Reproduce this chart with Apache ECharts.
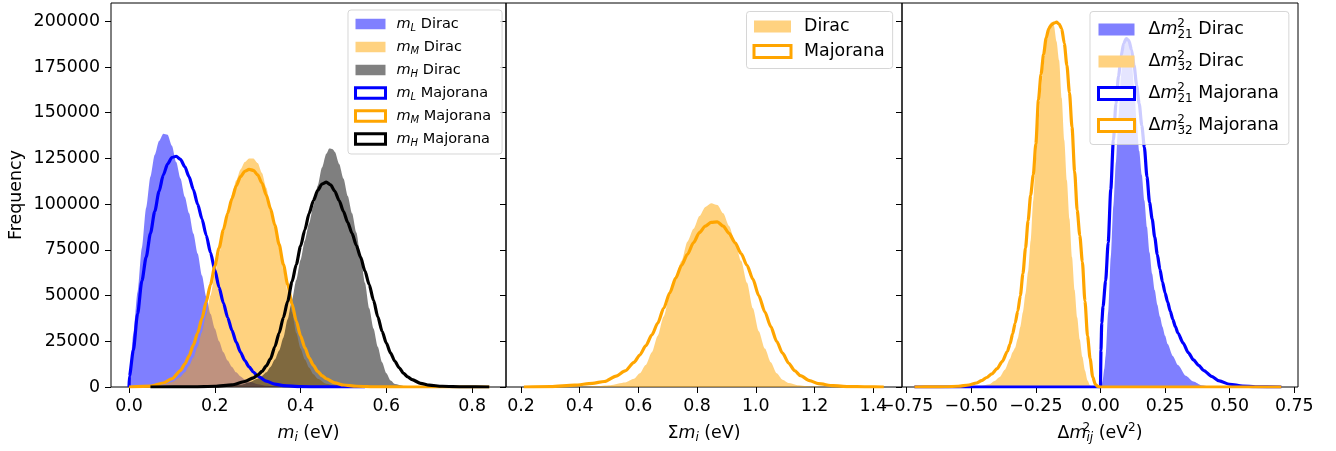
<!DOCTYPE html>
<html><head><meta charset="utf-8">
<script src="https://cdn.jsdelivr.net/npm/echarts@6/dist/echarts.min.js"></script>
<style>html,body{margin:0;padding:0;background:#fff}#c{width:1336px;height:451px}</style>
</head><body><div id="c"></div><script>
// ---------- Panel 1: individual masses m_i (eV) ----------
const mL_dirac = [[0,0],[0.001,5000],[0.01,29000],[0.02,52000],[0.03,76000],[0.04,98000],[0.05,115000],[0.06,127000],[0.07,134500],[0.08,138500],[0.09,138000],[0.10,132000],[0.11,123000],[0.12,114000],[0.13,104000],[0.14,95000],[0.15,84000],[0.16,73000],[0.17,61000],[0.18,49500],[0.19,40000],[0.20,32000],[0.21,25000],[0.22,19000],[0.23,14500],[0.24,11000],[0.25,8000],[0.26,5800],[0.27,4200],[0.28,3000],[0.30,1500],[0.32,700],[0.35,200],[0.40,0]];
const mM_dirac = [[0.02,0],[0.05,300],[0.08,1200],[0.10,2800],[0.12,5500],[0.13,8000],[0.14,11500],[0.15,16000],[0.16,22000],[0.17,30000],[0.18,39500],[0.19,50000],[0.20,61000],[0.21,72500],[0.22,84000],[0.23,95000],[0.24,105000],[0.25,113000],[0.26,119000],[0.27,123000],[0.28,125000],[0.29,125000],[0.30,122500],[0.31,117000],[0.32,109000],[0.33,99000],[0.34,88000],[0.35,76000],[0.36,64000],[0.37,52000],[0.38,41000],[0.39,29500],[0.40,21000],[0.41,15000],[0.42,10500],[0.43,7000],[0.44,4500],[0.46,1800],[0.48,700],[0.52,100],[0.60,0]];
const mH_dirac = [[0.15,0],[0.22,300],[0.26,1200],[0.28,2500],[0.30,4500],[0.31,6000],[0.32,8000],[0.33,11000],[0.34,15000],[0.35,20000],[0.36,27000],[0.37,37000],[0.38,47500],[0.39,58500],[0.40,69500],[0.41,80000],[0.42,89500],[0.43,99000],[0.44,110000],[0.45,120000],[0.46,127500],[0.467,130400],[0.475,130000],[0.48,128500],[0.49,122000],[0.50,114000],[0.51,104500],[0.52,95000],[0.53,84500],[0.54,71500],[0.55,57000],[0.56,43000],[0.57,32000],[0.58,22000],[0.59,13500],[0.60,7500],[0.61,3500],[0.62,1600],[0.64,600],[0.68,150],[0.75,0]];
const mL_major = [[0,0],[0.001,6000],[0.01,20000],[0.02,40000],[0.03,58000],[0.04,71000],[0.05,84000],[0.06,96000],[0.07,107000],[0.08,116000],[0.09,122000],[0.10,125500],[0.11,126200],[0.12,124500],[0.13,120500],[0.14,115000],[0.15,108000],[0.16,100000],[0.17,92000],[0.18,83000],[0.19,73500],[0.20,64000],[0.21,54500],[0.22,46000],[0.23,38000],[0.24,31000],[0.25,24500],[0.26,19000],[0.27,14500],[0.28,11000],[0.29,8200],[0.30,6000],[0.32,3200],[0.34,1600],[0.36,750],[0.40,200],[0.45,40],[0.50,0],[0.55,0]];
const mM_major = [[0,0],[0.05,500],[0.08,2200],[0.10,4500],[0.12,9000],[0.13,12500],[0.14,17000],[0.15,23000],[0.16,29500],[0.17,37500],[0.18,46500],[0.19,56000],[0.20,66000],[0.21,76000],[0.22,86000],[0.23,95000],[0.24,103000],[0.25,110000],[0.26,115000],[0.27,118000],[0.28,119000],[0.29,118500],[0.30,116000],[0.31,111500],[0.32,105000],[0.33,97500],[0.34,88500],[0.35,78000],[0.36,67000],[0.37,56000],[0.38,45500],[0.39,36000],[0.40,28000],[0.41,21500],[0.42,16000],[0.43,11800],[0.44,8500],[0.45,6200],[0.46,4500],[0.48,2300],[0.50,1100],[0.53,400],[0.58,80],[0.65,0],[0.84,0]];
const mH_major = [[0.05,0],[0.15,100],[0.20,400],[0.24,1200],[0.27,3000],[0.29,5000],[0.30,6500],[0.31,8500],[0.32,11500],[0.33,15500],[0.34,22000],[0.35,29500],[0.36,38000],[0.37,47000],[0.38,57500],[0.39,67000],[0.40,77000],[0.41,86000],[0.42,95000],[0.43,102000],[0.44,107500],[0.45,111000],[0.46,112000],[0.47,110500],[0.48,107000],[0.49,102000],[0.50,96000],[0.51,90000],[0.52,84000],[0.53,77500],[0.54,71000],[0.55,63500],[0.56,56000],[0.57,47500],[0.58,38500],[0.59,30500],[0.60,24000],[0.61,18500],[0.62,14000],[0.63,10500],[0.64,7500],[0.65,5500],[0.66,4000],[0.68,2000],[0.70,1000],[0.73,400],[0.78,100],[0.84,0]];

// ---------- Panel 2: sum of masses (eV) ----------
const sum_dirac = [[0.210,0],[0.403,100],[0.453,400],[0.504,1000],[0.555,2500],[0.585,4500],[0.605,7500],[0.625,12000],[0.646,19000],[0.666,28000],[0.686,38500],[0.707,50000],[0.727,60500],[0.747,69000],[0.767,79500],[0.788,86500],[0.808,93500],[0.828,98500],[0.848,100500],[0.869,99500],[0.889,95000],[0.909,88000],[0.929,79500],[0.950,69000],[0.970,57000],[0.990,43000],[1.010,30500],[1.031,21000],[1.051,13500],[1.071,7500],[1.091,4000],[1.112,2200],[1.142,1000],[1.193,300],[1.264,50],[1.436,0]];
const sum_major = [[0.210,0],[0.301,200],[0.382,1000],[0.443,2000],[0.484,3000],[0.524,6000],[0.555,8800],[0.585,13500],[0.605,17500],[0.625,22500],[0.646,28500],[0.666,35000],[0.686,43000],[0.707,51500],[0.727,59500],[0.747,66500],[0.767,72500],[0.788,79000],[0.808,84500],[0.828,88000],[0.848,90000],[0.869,90300],[0.889,88000],[0.909,84000],[0.929,79000],[0.950,73000],[0.970,66500],[0.990,59000],[1.010,50000],[1.031,41000],[1.051,33000],[1.071,25000],[1.091,18500],[1.112,13000],[1.132,9000],[1.152,6200],[1.183,3500],[1.213,1800],[1.264,700],[1.314,250],[1.375,80],[1.436,0]];

// ---------- Panel 3: mass-squared differences (eV^2) ----------
const d21_dirac = [[0.005,0],[0.008,3000],[0.015,10000],[0.02,17000],[0.03,41000],[0.04,71000],[0.05,99000],[0.06,123000],[0.07,148000],[0.08,171000],[0.09,185000],[0.10,191000],[0.11,189000],[0.12,180000],[0.13,165000],[0.14,146000],[0.15,129000],[0.16,116000],[0.17,102000],[0.18,87500],[0.19,73500],[0.20,62000],[0.21,53000],[0.22,45000],[0.23,38500],[0.24,33000],[0.25,28000],[0.26,23500],[0.28,17000],[0.30,12000],[0.33,6200],[0.36,3000],[0.39,1000],[0.43,250],[0.48,0]];
const d32_dirac = [[-0.70,0],[-0.55,100],[-0.50,300],[-0.46,700],[-0.43,1500],[-0.41,3300],[-0.39,5500],[-0.37,9500],[-0.35,15500],[-0.34,19000],[-0.33,21500],[-0.32,26500],[-0.31,33000],[-0.30,41000],[-0.29,51000],[-0.28,63000],[-0.27,80000],[-0.26,102000],[-0.25,124000],[-0.24,145000],[-0.23,163000],[-0.22,176000],[-0.21,190000],[-0.20,197500],[-0.19,199500],[-0.18,197500],[-0.17,189000],[-0.16,178700],[-0.15,158000],[-0.14,135000],[-0.13,113000],[-0.12,92000],[-0.11,71000],[-0.10,53000],[-0.09,38000],[-0.08,26000],[-0.07,16500],[-0.06,9000],[-0.05,3500],[-0.04,800],[-0.03,0]];
const d21_major = [[-0.72,0],[-0.005,0],[0.0,0],[0.002,20000],[0.005,35000],[0.01,44000],[0.02,58000],[0.03,79000],[0.04,108000],[0.05,135000],[0.06,155000],[0.07,170000],[0.08,181000],[0.09,188000],[0.10,190500],[0.11,189500],[0.12,184500],[0.13,176000],[0.14,165000],[0.15,155000],[0.16,143000],[0.17,131000],[0.18,115000],[0.19,101000],[0.20,92000],[0.21,82000],[0.22,72500],[0.23,64500],[0.24,57500],[0.25,51500],[0.26,46500],[0.27,41500],[0.28,37000],[0.29,33000],[0.30,29500],[0.32,24000],[0.34,18800],[0.36,14800],[0.38,11800],[0.40,9000],[0.43,5800],[0.46,3300],[0.50,1500],[0.55,500],[0.60,150],[0.70,0]];
const d32_major = [[-0.72,0],[-0.65,50],[-0.60,150],[-0.55,400],[-0.51,1100],[-0.48,2200],[-0.46,3500],[-0.44,5200],[-0.42,7200],[-0.40,10000],[-0.38,14000],[-0.36,19500],[-0.35,23500],[-0.34,29000],[-0.33,35000],[-0.32,41500],[-0.31,50000],[-0.30,62000],[-0.29,76000],[-0.28,91000],[-0.27,105000],[-0.26,116000],[-0.25,133000],[-0.24,157000],[-0.23,171000],[-0.22,182000],[-0.21,191000],[-0.20,196000],[-0.19,198000],[-0.18,199000],[-0.17,199500],[-0.16,198500],[-0.15,196000],[-0.14,188000],[-0.13,176000],[-0.12,161000],[-0.11,142000],[-0.10,118000],[-0.09,96700],[-0.08,83000],[-0.07,68500],[-0.06,47000],[-0.05,28000],[-0.04,15500],[-0.03,5500],[-0.02,1500],[-0.01,300],[0.0,0],[0.70,0]];

// ---------- ticks ----------
const yTicks = [0,25000,50000,75000,100000,125000,150000,175000,200000];
const x1Ticks = [0.0,0.2,0.4,0.6,0.8];
const x2Ticks = [0.2,0.4,0.6,0.8,1.0,1.2,1.4];
const x3Ticks = [-0.75,-0.5,-0.25,0.0,0.25,0.5,0.75];

const F = 'DejaVu Sans';
const FS = 17.4;
const BLUE = '#0000ff', ORANGE = '#ffa500', BLACK = '#000000';

const grids = [
  {left:111, top:3, width:395, height:384},
  {left:506, top:3, width:396, height:384},
  {left:902, top:3, width:396, height:384}
].map(g => Object.assign(g, {show:true, borderColor:'#000', borderWidth:1, backgroundColor:'transparent'}));

const nameRich = {
  i:{fontFamily:F, fontStyle:'italic', fontSize:FS, color:'#000'},
  s:{fontFamily:F, fontStyle:'italic', fontSize:12, color:'#000', padding:[10,0,0,0]},
  p:{fontFamily:F, fontSize:12, color:'#000', padding:[0,0,10,0], width:0.1},
  q:{fontFamily:F, fontSize:12, color:'#000', padding:[0,0,10,0]}
};

function xAx(gi, min, max, ticks, fmt, name) {
  return {
    gridIndex:gi, type:'value', min, max,
    name, nameLocation:'middle', nameGap:35,
    nameTextStyle:{fontFamily:F, fontSize:FS, color:'#000', rich:nameRich},
    axisLine:{show:false, onZero:false},
    axisTick:{show:true, inside:false, length:6, lineStyle:{color:'#000', width:1}, customValues:ticks},
    axisLabel:{show:true, margin:11, fontFamily:F, fontSize:FS, color:'#000', customValues:ticks, formatter:fmt},
    splitLine:{show:false}
  };
}
function yAx(gi, labels) {
  const o = {
    gridIndex:gi, type:'value', min:0, max:210000, position:'left',
    axisLine:{show:false, onZero:false},
    axisTick:{show:true, inside:false, length:6, lineStyle:{color:'#000', width:1}, customValues:yTicks},
    axisLabel:{show:labels, margin:11, fontFamily:F, fontSize:FS, color:'#000', customValues:yTicks, formatter:v => String(v)},
    splitLine:{show:false}
  };
  if (labels) {
    o.name = 'Frequency'; o.nameLocation = 'middle'; o.nameGap = 86;
    o.nameTextStyle = {fontFamily:F, fontSize:FS, color:'#000'};
  }
  return o;
}
const f1 = v => v.toFixed(1);
const f3 = v => (v < 0 ? '\u2212' : '') + Math.abs(v).toFixed(2);

function fillS(name, data, color, gi) {
  return {name, type:'line', data, xAxisIndex:gi, yAxisIndex:gi, symbol:'none', showSymbol:false,
    smooth:0.25, smoothMonotone:'x',
    lineStyle:{width:0, opacity:0}, areaStyle:{color, opacity:0.5}, itemStyle:{color}, color,
    silent:true, animation:false, z:2};
}
function lineS(name, data, color, gi) {
  return {name, type:'line', data, xAxisIndex:gi, yAxisIndex:gi, symbol:'none', showSymbol:false,
    smooth:0.25, smoothMonotone:'x',
    lineStyle:{width:3.2, color, join:'miter'}, itemStyle:{color}, color,
    silent:true, animation:false, z:3};
}

const series = [
  fillS('mL Dirac', mL_dirac, BLUE, 0),
  fillS('mM Dirac', mM_dirac, ORANGE, 0),
  fillS('mH Dirac', mH_dirac, BLACK, 0),
  lineS('mL Majorana', mL_major, BLUE, 0),
  lineS('mM Majorana', mM_major, ORANGE, 0),
  lineS('mH Majorana', mH_major, BLACK, 0),
  fillS('Dirac', sum_dirac, ORANGE, 1),
  lineS('Majorana', sum_major, ORANGE, 1),
  fillS('d21 Dirac', d21_dirac, BLUE, 2),
  fillS('d32 Dirac', d32_dirac, ORANGE, 2),
  lineS('d21 Majorana', d21_major, BLUE, 2),
  lineS('d32 Majorana', d32_major, ORANGE, 2)
];

const labelMap = {
  'mL Dirac':'{i|m}{s|L} Dirac', 'mM Dirac':'{i|m}{s|M} Dirac', 'mH Dirac':'{i|m}{s|H} Dirac',
  'mL Majorana':'{i|m}{s|L} Majorana', 'mM Majorana':'{i|m}{s|M} Majorana', 'mH Majorana':'{i|m}{s|H} Majorana',
  'Dirac':'Dirac', 'Majorana':'Majorana',
  'd21 Dirac':'\u0394{i|m}{p|2}{n|21} Dirac', 'd32 Dirac':'\u0394{i|m}{p|2}{n|32} Dirac',
  'd21 Majorana':'\u0394{i|m}{p|2}{n|21} Majorana', 'd32 Majorana':'\u0394{i|m}{p|2}{n|32} Majorana'
};
const fmtLegend = n => labelMap[n];

const fillItem = (name, c) => ({name, icon:'rect', itemStyle:{color:c, borderWidth:0, opacity:1}});
const lineItem = (name, c) => ({name, icon:'rect', itemStyle:{color:'#ffffff', borderColor:c, borderWidth:3, opacity:1}});

const legendBase = {
  orient:'vertical', selectedMode:false, backgroundColor:'rgba(255,255,255,0.8)',
  borderColor:'rgba(204,204,204,0.8)', borderWidth:1, borderRadius:3, formatter:fmtLegend
};

const legends = [
  Object.assign({}, legendBase, {
    left:348, top:10, itemWidth:30, itemHeight:10.5, itemGap:5, padding:[5,11,6,6],
    data:[fillItem('mL Dirac','#8080ff'), fillItem('mM Dirac','#ffd280'), fillItem('mH Dirac','#808080'),
          lineItem('mL Majorana',BLUE), lineItem('mM Majorana',ORANGE), lineItem('mH Majorana',BLACK)],
    textStyle:{fontFamily:F, fontSize:14.5, lineHeight:18, color:'#000', padding:[0,0,0,6],
      rich:{i:{fontFamily:F, fontStyle:'italic', fontSize:14.5, color:'#000'},
            s:{fontFamily:F, fontStyle:'italic', fontSize:10, color:'#000', padding:[8,0,0,0]}}}
  }),
  Object.assign({}, legendBase, {
    left:746.5, top:11.5, itemWidth:37, itemHeight:12, itemGap:5, padding:[5,8,7,6],
    data:[fillItem('Dirac','#ffd280'), lineItem('Majorana',ORANGE)],
    textStyle:{fontFamily:F, fontSize:FS, lineHeight:20, color:'#000', padding:[0,0,0,8]}
  }),
  Object.assign({}, legendBase, {
    left:1090, top:11.5, itemWidth:36, itemHeight:12, itemGap:8, padding:[6,10,7,7],
    data:[fillItem('d21 Dirac','#8080ff'), fillItem('d32 Dirac','#ffd280'),
          lineItem('d21 Majorana',BLUE), lineItem('d32 Majorana',ORANGE)],
    textStyle:{fontFamily:F, fontSize:FS, lineHeight:24, color:'#000', padding:[0,0,0,9],
      rich:{i:{fontFamily:F, fontStyle:'italic', fontSize:FS, color:'#000'},
            p:{fontFamily:F, fontSize:12, color:'#000', padding:[0,0,11,0], width:0.1},
            n:{fontFamily:F, fontSize:12, color:'#000', padding:[11,0,0,0]}}}
  })
];

const chart = echarts.init(document.getElementById('c'), null, {renderer:'canvas'});
chart.setOption({
  animation:false,
  backgroundColor:'#ffffff',
  textStyle:{fontFamily:F},
  grid:grids,
  xAxis:[
    xAx(0, -0.042, 0.879, x1Ticks, f1, '{i|m}{s|i} (eV)'),
    xAx(1, 0.149, 1.498, x2Ticks, f1, '\u03a3{i|m}{s|i} (eV)'),
    xAx(2, -0.768, 0.7645, x3Ticks, f3, '\u0394{i|m}{p|2}{s|ij} (eV{q|2})')
  ],
  yAxis:[yAx(0,true), yAx(1,false), yAx(2,false)],
  legend:legends,
  series
});
</script></body></html>
